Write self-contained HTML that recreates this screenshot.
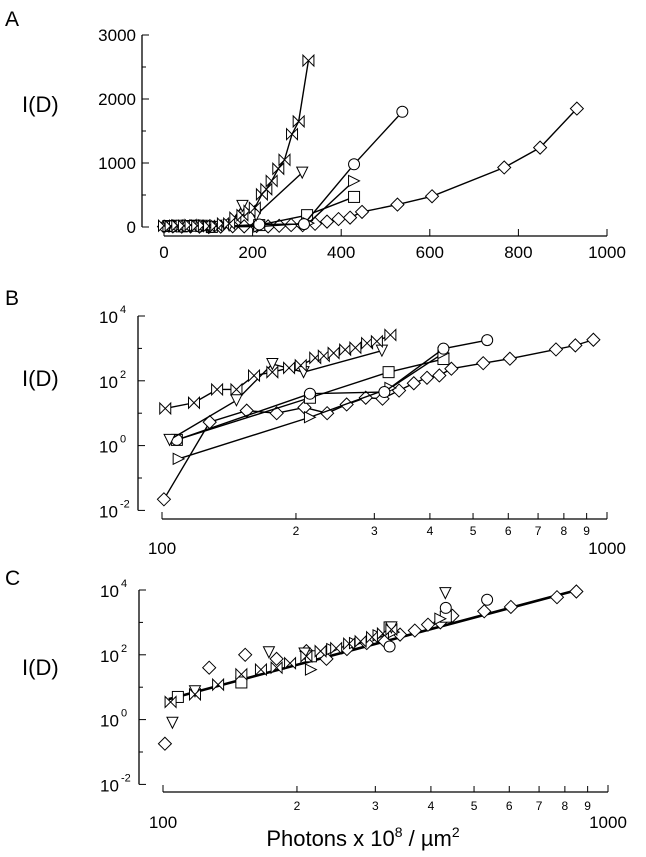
<!DOCTYPE html>
<html><head><meta charset="utf-8"><style>
body{margin:0;background:#fff}
svg text{font-family:"Liberation Sans",sans-serif;fill:#000}
</style></head><body>
<svg id="fig" width="646" height="852" viewBox="0 0 646 852" xmlns="http://www.w3.org/2000/svg"></svg>
<script>
// ---- data ----
const seriesNames = ["bowtie","tridown","circle","square","triright","diamond"];
const bowtieX = [0,15,30,45,60,75,90,101.7,118,133,147,161,177,193,205,221,231,243,258,272,289,304,326];
const bowtieY = [20,15,25,20,30,20,25,14,21,54,54,145,185,250,300,510,590,720,910,1050,1450,1650,2600];
const tridownX = [10,35,60,85,104,147,177,208,312];
const tridownY = [10,20,15,20,1.5,25,330,185,850];
const circleX = [20,50,80,108,215,316,429,538];
const circleY = [10,15,10,1.5,40,45,980,1800];
const squareX = [10,40,70,108,215,323,429];
const squareY = [15,10,20,1.5,30,185,470];
const trirightX = [25,55,85,109,215,326,429];
const trirightY = [10,20,15,0.39,7.5,60,720];
const diamondX = [0,20,40,60,80,101,128,155,181,209,235,260,287,313,341,368,394,420,447,527,605,768,849,932];
const diamondY = [5,10,5,8,6,0.022,5.3,12,10,15,10,18.6,30,28,50,84,124,146,236,350,480,930,1240,1850];
// panel C (scaled)
const cDiamondX = [101,127,153,180,210,233,259,287,315,341,368,394,420,447,527,605,768,849];
const cDiamondY = [0.18,40,100,75,130,75,150,230,260,420,560,850,1000,1600,2200,3000,6000,9000];
const cBowtieX = [104,118,133,150,166,180,193,210,226,245,262,278,295,312,326];
const cBowtieY = [3.5,6,12,25,35,40,55,90,130,160,220,260,350,450,600];
const cTridownX = [105,118,173,208,326,431];
const cTridownY = [0.8,7.5,120,110,700,8000];
const cCircleX = [323,432,535];
const cCircleY = [180,2800,5000];
const cSquareX = [108,150,215,323,432];
const cSquareY = [5,14,90,700,1500];
const cTrirightX = [215,240,270,305,330,420];
const cTrirightY = [35,150,230,400,500,1300];
const fitX = [103,849];
const fitY = [4.3,9800];
const aYTicks = [0,1000,2000,3000];
const aXTicks = [0,200,400,600,800,1000];
const logYTicks = [4,2,0,-2];
const logXMinor = [2,3,4,5,6,7,8,9];

const NS="http://www.w3.org/2000/svg";
const svg=document.getElementById('fig');
function el(tag,attrs,parent){const e=document.createElementNS(NS,tag);for(const k in attrs)e.setAttribute(k,attrs[k]);(parent||svg).appendChild(e);return e;}
function txt(x,y,s,size,anchor,parent){const t=el('text',{x:x,y:y,'font-size':size,'text-anchor':anchor||'middle'},parent);t.textContent=s;return t;}

function marker(g,type,x,y){
  const r=5.5;let m;
  const a={fill:'#fff',stroke:'#000','stroke-width':1};
  if(type==='circle'){m=el('circle',Object.assign({cx:x,cy:y,r:r},a),g);}
  else if(type==='square'){m=el('rect',Object.assign({x:x-r,y:y-r,width:2*r,height:2*r},a),g);}
  else if(type==='diamond'){m=el('polygon',Object.assign({points:`${x},${y-r-1} ${x+r+1},${y} ${x},${y+r+1} ${x-r-1},${y}`},a),g);}
  else if(type==='tridown'){m=el('polygon',Object.assign({points:`${x-r},${y-r} ${x+r},${y-r} ${x},${y+r}`},a),g);}
  else if(type==='triright'){m=el('polygon',Object.assign({points:`${x-r},${y-r} ${x+r},${y} ${x-r},${y+r}`},a),g);}
  else {m=el('path',Object.assign({d:`M${x-r},${y-r}L${x+r},${y+r}L${x+r},${y-r}L${x-r},${y+r}Z`},a),g);}
  
  
}
function series(g,type,X,Y,sx,sy,filt,drawLine){
  const pts=[];
  for(let i=0;i<X.length;i++){if(filt(X[i],Y[i]))pts.push([sx(X[i]),sy(Y[i])]);}
  if(drawLine){const p=el('polyline',{points:pts.map(p=>p.join(',')).join(' '),fill:'none',stroke:'#000','stroke-width':1.4},g);
    
    }
  pts.forEach(p=>marker(g,type,p[0],p[1]));
}
function label(x,y,s){const t=txt(x,y,s,21,'start');}
function ylab(y){const t=txt(22,y,'I(D)',22,'start');}

// ---- Panel A ----
const gA=el('g',{});
const axA=x=>164+x*0.443, ayA=y=>227-y*0.064;
label(5,26,'A');ylab(112);
el('line',{x1:142,y1:ayA(3000),x2:142,y2:ayA(0),stroke:'#000','stroke-width':1.3},gA);
el('line',{x1:axA(0),y1:236,x2:axA(1000),y2:236,stroke:'#000','stroke-width':1.3},gA);
aYTicks.forEach(v=>{el('line',{x1:142,y1:ayA(v),x2:149,y2:ayA(v),stroke:'#000'},gA);txt(136,ayA(v)+6,String(v),17,'end',gA);});
[500,1500,2500].forEach(v=>el('line',{x1:142,y1:ayA(v),x2:146,y2:ayA(v),stroke:'#000'},gA));
aXTicks.forEach(v=>{el('line',{x1:axA(v),y1:236,x2:axA(v),y2:229,stroke:'#000'},gA);txt(axA(v),258,String(v),17,'middle',gA);});
const fA=()=>true;
series(gA,'diamond',diamondX,diamondY,axA,ayA,fA,true);
series(gA,'square',squareX,squareY,axA,ayA,fA,true);
series(gA,'triright',trirightX,trirightY,axA,ayA,fA,true);
series(gA,'circle',circleX,circleY,axA,ayA,fA,true);
series(gA,'tridown',tridownX,tridownY,axA,ayA,fA,true);
series(gA,'bowtie',bowtieX,bowtieY,axA,ayA,fA,true);

// ---- log panels ----
function logPanel(name,x0,y4,yAxisX,xAxisY,lbl,lblY,ylY,digitY,hundredY){
  const g=el('g',{});
  const sx=x=>x0+445*Math.log10(x/100), sy=y=>y4+32.4*(4-Math.log10(y));
  label(5,lblY,lbl);ylab(ylY);
  el('line',{x1:yAxisX,y1:sy(1e4),x2:yAxisX,y2:sy(1e-2),stroke:'#000','stroke-width':1.3},g);
  el('line',{x1:sx(100),y1:xAxisY,x2:sx(1000),y2:xAxisY,stroke:'#000','stroke-width':1.3},g);
  logYTicks.forEach(e=>{const y=sy(Math.pow(10,e));el('line',{x1:yAxisX,y1:y,x2:yAxisX+7,y2:y,stroke:'#000'},g);
    txt(yAxisX-39,y+7,'10',17,'start',g);txt(yAxisX-18,y-3,String(e),11,'start',g);});
  [3,1,-1].forEach(e=>{const y=sy(Math.pow(10,e));el('line',{x1:yAxisX,y1:y,x2:yAxisX+4,y2:y,stroke:'#000'},g);});
  [100,1000].forEach(v=>{el('line',{x1:sx(v),y1:xAxisY,x2:sx(v),y2:xAxisY-7,stroke:'#000'},g);txt(sx(v),hundredY,String(v),17,'middle',g);});
  logXMinor.forEach(d=>{el('line',{x1:sx(d*100),y1:xAxisY,x2:sx(d*100),y2:xAxisY-6,stroke:'#000'},g);txt(sx(d*100),digitY,String(d),12,'middle',g);});
  return {g,sx,sy};
}
const B=logPanel('panel-b',162,316,138,519,'B',305,386,535,554);
const fB=x=>x>=100;
series(B.g,'diamond',diamondX,diamondY,B.sx,B.sy,fB,true);
series(B.g,'square',squareX,squareY,B.sx,B.sy,fB,true);
series(B.g,'triright',trirightX,trirightY,B.sx,B.sy,fB,true);
series(B.g,'circle',circleX,circleY,B.sx,B.sy,fB,true);
series(B.g,'tridown',tridownX,tridownY,B.sx,B.sy,fB,true);
series(B.g,'bowtie',bowtieX,bowtieY,B.sx,B.sy,fB,true);

const C=logPanel('panel-c',163,590,139,792,'C',585,675,810,828);
const fl=el('line',{x1:C.sx(fitX[0]),y1:C.sy(fitY[0]),x2:C.sx(fitX[1]),y2:C.sy(fitY[1]),stroke:'#000','stroke-width':2.6},C.g);


const fC=()=>true;
series(C.g,'diamond',cDiamondX,cDiamondY,C.sx,C.sy,fC,false);
series(C.g,'square',cSquareX,cSquareY,C.sx,C.sy,fC,false);
series(C.g,'triright',cTrirightX,cTrirightY,C.sx,C.sy,fC,false);
series(C.g,'circle',cCircleX,cCircleY,C.sx,C.sy,fC,false);
series(C.g,'tridown',cTridownX,cTridownY,C.sx,C.sy,fC,false);
series(C.g,'bowtie',cBowtieX,cBowtieY,C.sx,C.sy,fC,false);
const xt=el('text',{x:363,y:846,'font-size':22,'text-anchor':'middle'});


xt.innerHTML='Photons x 10<tspan dy="-9" font-size="14">8</tspan><tspan dy="9"> / µm</tspan><tspan dy="-9" font-size="14">2</tspan>';
</script>
</body></html>
